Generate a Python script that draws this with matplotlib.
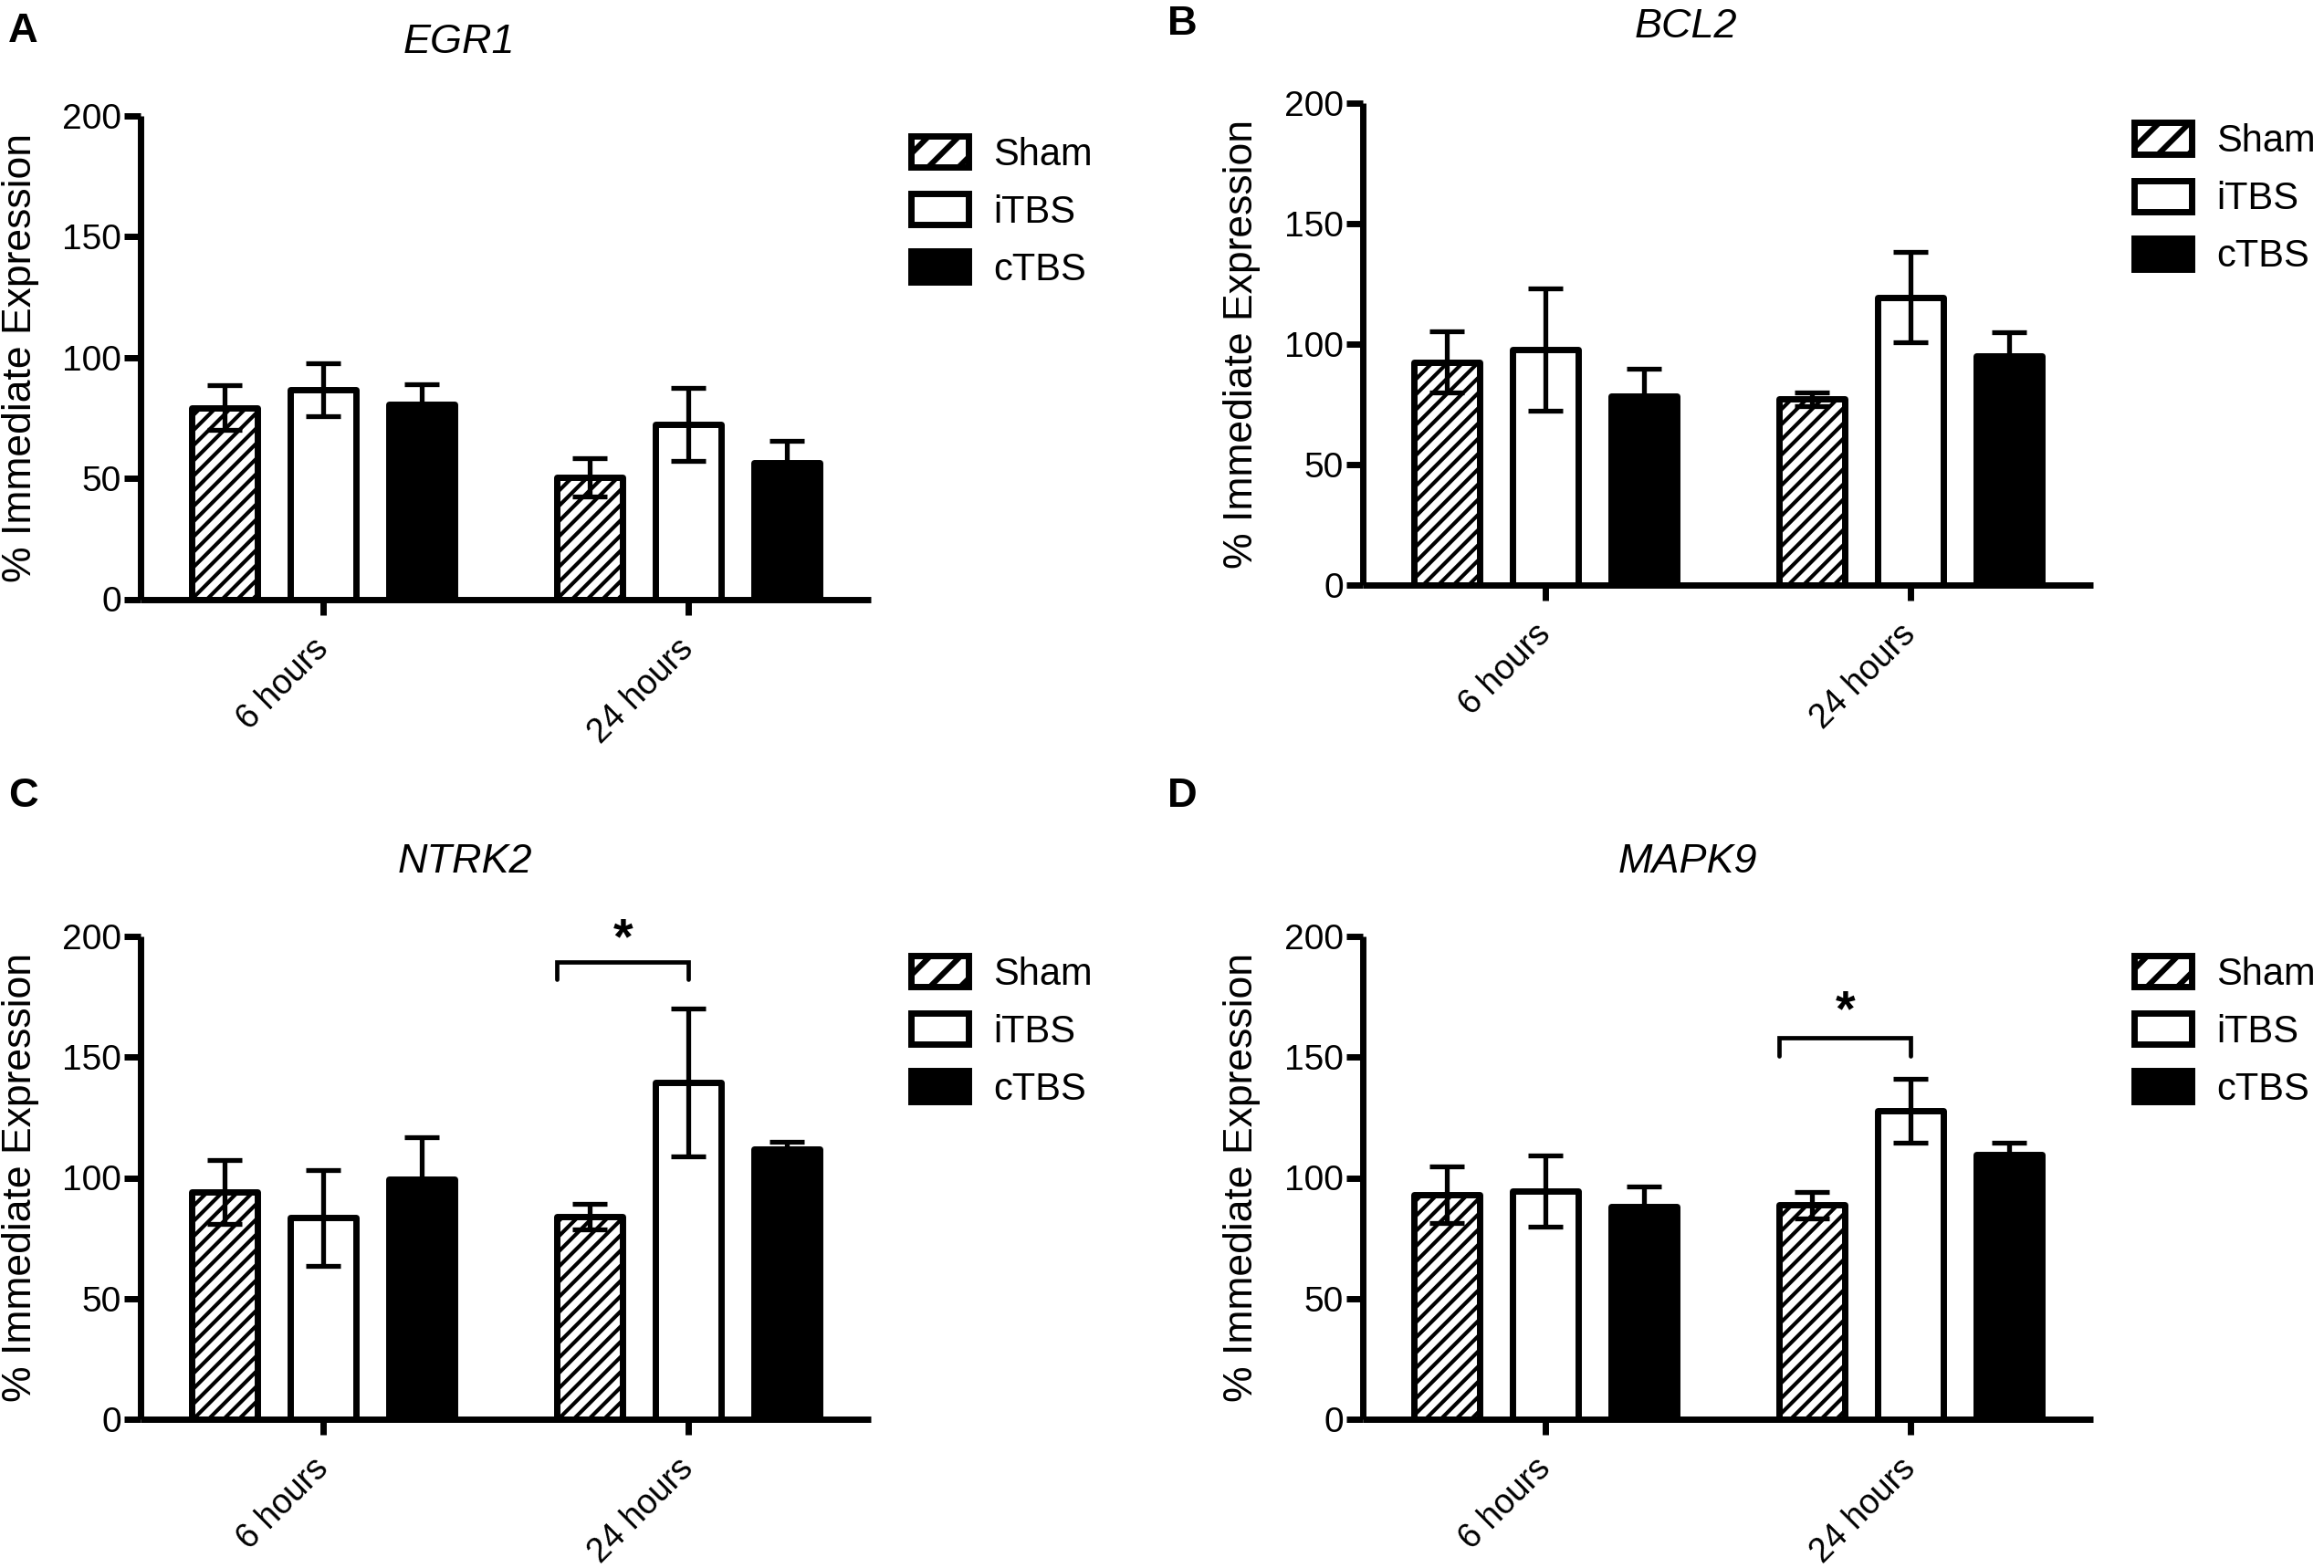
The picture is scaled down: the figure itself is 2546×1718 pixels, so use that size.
import matplotlib
matplotlib.use("Agg")
import matplotlib.pyplot as plt
from matplotlib.patches import Patch
import numpy as np

plt.rcParams['font.family'] = ['Liberation Sans', 'DejaVu Sans']

# ---------------- data ----------------
timepoints = ["6 hours", "24 hours"]
groups = ["Sham", "iTBS", "cTBS"]
genes = ["EGR1", "BCL2", "NTRK2", "MAPK9"]
panel_letters = ["A", "B", "C", "D"]

egr1_mean = {"Sham": [79.3, 50.4], "iTBS": [86.6, 72.3], "cTBS": [80.8, 56.3]}
egr1_sem = {"Sham": [9.4, 8.0], "iTBS": [10.9, 15.1], "cTBS": [8.0, 9.1]}

bcl2_mean = {"Sham": [92.6, 77.1], "iTBS": [97.8, 119.4], "cTBS": [78.3, 95.0]}
bcl2_sem = {"Sham": [12.8, 3.0], "iTBS": [25.4, 18.8], "cTBS": [11.5, 9.8]}

ntrk2_mean = {"Sham": [94.0, 84.0], "iTBS": [83.4, 139.4], "cTBS": [99.5, 111.9]}
ntrk2_sem = {"Sham": [13.2, 5.2], "iTBS": [19.8, 30.6], "cTBS": [17.2, 3.1]}

mapk9_mean = {"Sham": [93.0, 88.8], "iTBS": [94.5, 127.7], "cTBS": [88.1, 109.8]}
mapk9_sem = {"Sham": [11.8, 5.5], "iTBS": [14.7, 13.3], "cTBS": [8.3, 4.6]}

yticks = [0, 50, 100, 150, 200]
ylabel = "% Immediate Expression"

# significance: (bracket height, leg bottom, star height) for 24 h Sham vs iTBS
ntrk2_sig = (189.5, 182.3, 198.5)
mapk9_sig = (157.9, 150.3, 168.5)

means = [egr1_mean, bcl2_mean, ntrk2_mean, mapk9_mean]
sems = [egr1_sem, bcl2_sem, ntrk2_sem, mapk9_sem]
sigs = [None, None, ntrk2_sig, mapk9_sig]

# ---------------- layout ----------------
W, H = 2546, 1718
DPI = 200
fig = plt.figure(figsize=(W / DPI, H / DPI), dpi=DPI)

# pixel boxes: left, top(200), bottom(0)
boxes = [(154, 127, 656.5), (1493, 113, 641), (154, 1026, 1555), (1493, 1026, 1555)]
ax_w = 800
ylabel_x = [23, 1360, 23, 1360]
titles_pos = [(503, 58), (1847, 41), (509, 956), (1849, 956)]
letters_pos = [(25, 46), (1295, 38), (25, 884), (1295, 884)]
legend_pos = [(998, 149), (2338, 134.5), (998, 1047), (2338, 1047)]

styles = {
    "Sham": dict(facecolor="white", hatch="////"),
    "iTBS": dict(facecolor="white", hatch=None),
    "cTBS": dict(facecolor="black", hatch=None),
}
legend_hatch = {"Sham": "//", "iTBS": None, "cTBS": None}

LW = 2.5  # bar/spine line width (pt)
offset = 0.27
bw = 0.178
x = np.arange(len(timepoints))

for i in range(4):
    left, top, bot = boxes[i]
    ax = fig.add_axes([left / W, 1 - bot / H, ax_w / W, (bot - top) / H])
    plt.rcParams['hatch.linewidth'] = 1.5
    for k, g in enumerate(groups):
        xpos = x + (k - 1) * offset
        ax.bar(xpos, means[i][g], width=bw, edgecolor="black", linewidth=LW,
               facecolor=styles[g]["facecolor"], hatch=styles[g]["hatch"],
               zorder=2, joinstyle="round")
        ax.errorbar(xpos, means[i][g], yerr=sems[i][g], fmt="none", ecolor="black",
                    elinewidth=1.9, capsize=7, capthick=1.9, zorder=3)
    ax.set_xlim(-0.5, 1.5)
    ax.set_ylim(0, 200)
    ax.set_yticks(yticks)
    ax.set_yticklabels([str(v) for v in yticks], fontsize=14)
    ax.set_xticks(x)
    ax.set_xticklabels(timepoints, fontsize=13.5, rotation=45, ha="right",
                       va="center", rotation_mode="anchor")
    ax.tick_params(axis="y", direction="out", length=6.5, width=LW, pad=1)
    ax.tick_params(axis="x", direction="out", length=6.1, width=LW, pad=11.5)
    for s in ["top", "right"]:
        ax.spines[s].set_visible(False)
    for s in ["left", "bottom"]:
        ax.spines[s].set_linewidth(LW)
        ax.spines[s].set_capstyle("butt")
    ax.set_ylabel(ylabel, fontsize=16, va="center")
    ax.yaxis.set_label_coords((ylabel_x[i] - left) / ax_w, 0.5)
    ax.patch.set_visible(False)

    # significance bracket
    if sigs[i] is not None:
        yb, yl, ys = sigs[i]
        x0 = 1 - offset - bw / 2
        x1 = 1.0
        ax.plot([x0, x0, x1, x1], [yl, yb, yb, yl], color="black", lw=1.7,
                solid_capstyle="round", solid_joinstyle="miter", clip_on=False, zorder=4)
        ax.text((x0 + x1) / 2, ys, "*", ha="center", va="center", fontsize=20,
                fontweight="bold", clip_on=False)

    # legend
    plt.rcParams['hatch.linewidth'] = 2.2
    handles = [Patch(facecolor=styles[g]["facecolor"], edgecolor="black",
                     hatch=legend_hatch[g], linewidth=LW) for g in groups]
    lx, ly = legend_pos[i]
    fs = 15
    fs_px = fs * DPI / 72
    ax.legend(handles, groups, loc="upper left",
              bbox_to_anchor=(lx / W, 1 - ly / H), bbox_transform=fig.transFigure,
              frameon=False, fontsize=fs, borderpad=0, borderaxespad=0,
              handlelength=63 / fs_px, handleheight=37 / fs_px,
              handletextpad=27 / fs_px, labelspacing=22.5 / fs_px)

    # title and panel letter
    tx, ty = titles_pos[i]
    fig.text(tx / W, 1 - ty / H, genes[i], ha="center", va="baseline",
             fontsize=16.2, style="italic")
    lx2, ly2 = letters_pos[i]
    fig.text(lx2 / W, 1 - ly2 / H, panel_letters[i], ha="center", va="baseline",
             fontsize=16.3, fontweight="bold")

fig.savefig("out.png", dpi=DPI)
